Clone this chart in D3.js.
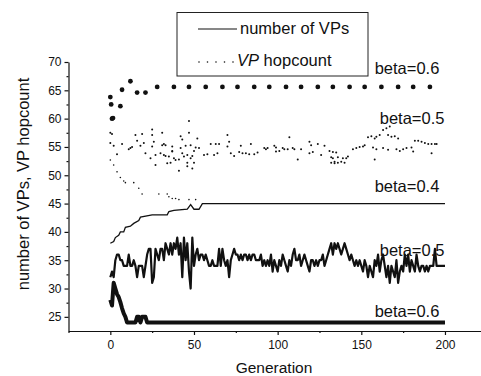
<!DOCTYPE html>
<html>
<head>
<meta charset="utf-8">
<script src="https://cdn.jsdelivr.net/npm/d3@7"></script>
<style>
  body { margin: 0; background: #fff; }
  svg text { font-family: "Liberation Sans", Arial, sans-serif; fill: #111; }
</style>
</head>
<body>
<svg id="chart" width="481" height="376"></svg>
<script>
// number of VPs, beta=0.4 (generation, value)
var vp04Gen = [0, 2, 3, 5, 6, 8, 9, 12, 14, 17, 18, 25, 34, 35, 38, 46, 48, 50, 53, 55, 200];
var vp04Val = [38, 38.3, 39, 39.4, 40, 40, 40.8, 41, 41.5, 42, 42.6, 43, 43, 43.6, 43.8, 44, 44.8, 44, 44, 45, 45];

// number of VPs, beta=0.5 (one value per generation 0..200)
var vp05 = [32, 33, 32, 35, 36, 36, 35, 35, 34, 34, 34, 36, 34, 34, 35, 34, 32, 34, 34, 34,
  32, 34, 36, 37, 37, 31, 32, 37, 36, 35, 37, 37, 35, 38, 37, 36, 38, 36, 38, 37,
  39, 36, 38, 32, 39, 35, 38, 33, 30, 39, 34, 36, 37, 35, 36, 36, 35, 36, 35, 34,
  34, 35, 34, 34, 34, 37, 34, 37, 35, 34, 35, 32, 35, 36, 37, 36, 36, 35, 36, 35,
  36, 36, 35, 36, 35, 36, 36, 35, 35, 35, 36, 34, 35, 34, 35, 34, 36, 33, 35, 34,
  33, 35, 34, 36, 35, 34, 33, 35, 34, 36, 37, 35, 35, 36, 34, 35, 36, 35, 34, 33,
  35, 35, 34, 35, 34, 35, 35, 36, 34, 35, 36, 37, 38, 36, 38, 37, 38, 37, 36, 37,
  38, 37, 36, 35, 36, 35, 34, 35, 34, 35, 34, 33, 35, 34, 32, 34, 33, 32, 35, 34,
  36, 33, 35, 36, 34, 32, 34, 31, 34, 33, 32, 35, 31, 33, 34, 33, 36, 34, 36, 33,
  35, 34, 33, 36, 34, 33, 34, 34, 33, 34, 33, 34, 34, 34, 37, 34, 34, 34, 34, 34, 34];

// number of VPs, beta=0.6
var vp06Gen = [0, 1, 2, 3, 4, 5, 6, 7, 8, 9, 10, 15, 16, 17, 18, 19, 20, 21, 22, 200];
var vp06Val = [28, 27, 31, 30, 29, 28.5, 27.6, 26.5, 25.6, 25, 24, 24, 25, 25, 24, 25, 25, 25, 24, 24];

// VP hopcount, beta=0.4
var hop04Gen = [0, 2, 4, 6, 8, 9, 14, 17, 19, 29, 34, 35, 37, 39, 41, 47, 51];
var hop04Val = [52.7, 51.8, 50.6, 49.6, 49.0, 48.7, 48.7, 47.7, 46.7, 46.7, 46.7, 46.2, 45.9, 45.9, 45.7, 45.7, 45.7];

// VP hopcount, beta=0.5
var hop05Gen = [0, 1, 15, 19, 25, 25, 31, 42, 43, 47, 52, 47,
  0, 2, 7, 11, 12, 13, 16, 18, 20, 25, 26, 31, 32, 33, 37, 37, 42, 45, 48, 50, 51, 53,
  4, 21, 24, 27, 30, 32, 33, 35, 37, 38, 39, 41, 43, 44, 46, 48, 49,
  27, 34, 36, 46, 46, 50, 41, 49,
  56, 58, 60, 63, 62, 64,
  65, 70, 71, 70, 72, 74, 77, 78, 79, 81, 83, 84, 86, 88, 92, 93, 94, 98, 99, 99, 101,
  103, 104, 106, 107, 109, 110, 112, 114, 119, 120, 119, 121, 124, 126, 128, 131, 133, 132, 133, 134,
  135, 136, 132, 134, 136, 138, 140, 139, 141, 142, 145, 147, 149, 151, 152, 154, 156, 158, 159, 161,
  163, 165, 167, 166, 168, 170, 172, 157, 159, 158, 163, 166, 171, 173, 175, 177, 180, 181, 182, 184,
  186, 188, 190, 192, 194, 192, 195];
var hop05Val = [57.5, 57.3, 57.1, 57.3, 58.1, 57.1, 57.5, 56.9, 56.3, 57.5, 56.5, 59.6,
  55.7, 55.2, 55.5, 54.6, 54.8, 55.0, 56.1, 55.2, 55.7, 55.1, 55.9, 55.3, 55.5, 55.3, 55.1, 54.2, 54.8, 55.2, 55.3, 54.3, 54.9, 54.8,
  53.7, 53.9, 53.0, 53.6, 53.9, 53.6, 53.4, 53.3, 54.3, 53.0, 52.7, 52.8, 53.9, 53.3, 53.6, 53.0, 53.4,
  51.8, 52.1, 52.2, 52.2, 51.6, 52.2, 50.8, 51.2,
  53.6, 53.7, 55.5, 55.5, 53.6, 53.9,
  55.5, 57.1, 55.9, 55.1, 53.9, 53.4, 54.1, 55.2, 53.9, 53.9, 53.7, 55.5, 53.7, 54.0, 54.8, 54.6, 54.8, 55.2, 54.9, 54.2, 54.3,
  54.8, 54.6, 54.6, 56.7, 54.8, 54.6, 52.8, 54.6, 55.9, 55.3, 53.9, 54.1, 55.5, 53.6, 55.2, 54.3, 54.1, 52.2, 53.0, 52.1,
  54.0, 53.2, 53.2, 52.4, 52.2, 52.4, 52.2, 53.0, 53.0, 53.3, 54.6, 54.8, 55.0, 55.1, 55.3, 56.7, 56.9, 56.5, 56.8, 57.1,
  58.0, 58.3, 58.6, 57.1, 56.8, 56.9, 56.5, 54.9, 54.6, 52.8, 54.8, 54.5, 54.6, 54.3, 54.6, 54.8, 54.9, 54.2, 56.1, 56.1,
  55.9, 55.7, 55.5, 55.5, 55.5, 53.9, 55.5];

// VP hopcount, beta=0.6
var hop06Gen = [0, 0.5, 1, 1.6, 6, 7, 12, 16, 21, 28, 38, 47, 57, 67, 76, 86, 95, 105, 114, 124, 133, 143, 152, 162, 172, 181, 191];
var hop06Val = [63.8, 62.5, 60, 60.1, 62.2, 65.1, 66.6, 64.6, 64.6, 65.6, 65.6, 65.6, 65.6, 65.6, 65.6, 65.6, 65.6, 65.6, 65.6, 65.6, 65.6, 65.6, 65.6, 65.6, 65.6, 65.6, 65.6];

var yTicks = [25, 30, 35, 40, 45, 50, 55, 60, 65, 70];
var yMinor = [27.5, 32.5, 37.5, 42.5, 47.5, 52.5, 57.5, 62.5, 67.5];
var xTicks = [0, 50, 100, 150, 200];
var xMinor = [-25, 25, 75, 125, 175, 225];

var betaLabels = [
  {text: "beta=0.6", gen: 158, val: 67.8},
  {text: "beta=0.5", gen: 161, val: 59.1},
  {text: "beta=0.4", gen: 158, val: 47.0},
  {text: "beta=0.5", gen: 161, val: 35.7},
  {text: "beta=0.6", gen: 158, val: 25.0}
];

var svg = d3.select("#chart");

var x = d3.scaleLinear().domain([-25, 225]).range([68.5, 486.8]);
var y = d3.scaleLinear().domain([22.5, 70]).range([331, 62]);

// axes
svg.append("g").attr("transform", "translate(68.5,0)")
    .call(d3.axisLeft(y).tickValues(yTicks).tickSize(4).tickSizeOuter(0).tickPadding(3));
svg.append("g").attr("transform", "translate(68.5,0)")
    .call(d3.axisLeft(y).tickValues(yMinor).tickSize(2).tickFormat(""))
    .select(".domain").remove();
svg.append("g").attr("transform", "translate(0,331)")
    .call(d3.axisBottom(x).tickValues(xTicks).tickSize(4).tickSizeOuter(0).tickPadding(5));
svg.append("g").attr("transform", "translate(0,331)")
    .call(d3.axisBottom(x).tickValues(xMinor).tickSize(2).tickFormat(""))
    .select(".domain").remove();

svg.selectAll(".tick text").style("font-size", "12px").attr("fill", "#111");
svg.selectAll(".domain, .tick line").attr("stroke", "#111").attr("stroke-width", 1.2);

// axis titles
svg.append("text").attr("x", 274).attr("y", 373).attr("text-anchor", "middle")
    .style("font-size", "15.5px").text("Generation");
svg.append("text").attr("transform", "translate(29,184) rotate(-90)").attr("text-anchor", "middle")
    .style("font-size", "16.5px").text("number of VPs, VP hopcount");

// lines
var line = d3.line().x(function(d) { return x(d[0]); }).y(function(d) { return y(d[1]); });

var vp04Data = vp04Gen.map(function(g, i) { return [g, vp04Val[i]]; });
var vp05Data = vp05.map(function(v, i) { return [i, v]; });
var vp06Data = vp06Gen.map(function(g, i) { return [g, vp06Val[i]]; });

svg.append("path").datum(vp04Data).attr("d", line)
    .attr("fill", "none").attr("stroke", "#111").attr("stroke-width", 1.3);
svg.append("path").datum(vp05Data).attr("d", line)
    .attr("fill", "none").attr("stroke", "#111").attr("stroke-width", 2.2).attr("stroke-linejoin", "round");
svg.append("path").datum(vp06Data).attr("d", line)
    .attr("fill", "none").attr("stroke", "#111").attr("stroke-width", 4).attr("stroke-linejoin", "round");

// hopcount dots
var drawDots = function(gens, vals, r) {
    svg.append("g").selectAll("circle").data(gens).enter().append("circle")
        .attr("cx", function(d) { return x(d); })
        .attr("cy", function(d, i) { return y(vals[i]); })
        .attr("r", r).attr("fill", "#111");
};
drawDots(hop04Gen, hop04Val, 0.8);
drawDots(hop05Gen, hop05Val, 1.0);
drawDots(hop06Gen, hop06Val, 2.4);

// beta labels
svg.append("g").selectAll("text").data(betaLabels).enter().append("text")
    .attr("x", function(d) { return x(d.gen); })
    .attr("y", function(d) { return y(d.val); })
    .style("font-size", "16.5px")
    .text(function(d) { return d.text; });

// legend
var legend = svg.append("g");
legend.append("rect").attr("x", 177).attr("y", 12.5).attr("width", 191).attr("height", 63.5)
    .attr("fill", "#fff").attr("stroke", "#222").attr("stroke-width", 1);
legend.append("line").attr("x1", 198).attr("x2", 237).attr("y1", 29).attr("y2", 29)
    .attr("stroke", "#111").attr("stroke-width", 1.2);
legend.append("text").attr("x", 240).attr("y", 34).style("font-size", "16.5px").text("number of VPs");
legend.append("line").attr("x1", 199).attr("x2", 234).attr("y1", 62).attr("y2", 62)
    .attr("stroke", "#111").attr("stroke-width", 1.6).attr("stroke-linecap", "round")
    .attr("stroke-dasharray", "0,8.5");
var hopText = legend.append("text").attr("x", 237).attr("y", 66).style("font-size", "16.5px");
hopText.append("tspan").style("font-style", "italic").text("VP");
hopText.append("tspan").text(" hopcount");
</script>
</body>
</html>
